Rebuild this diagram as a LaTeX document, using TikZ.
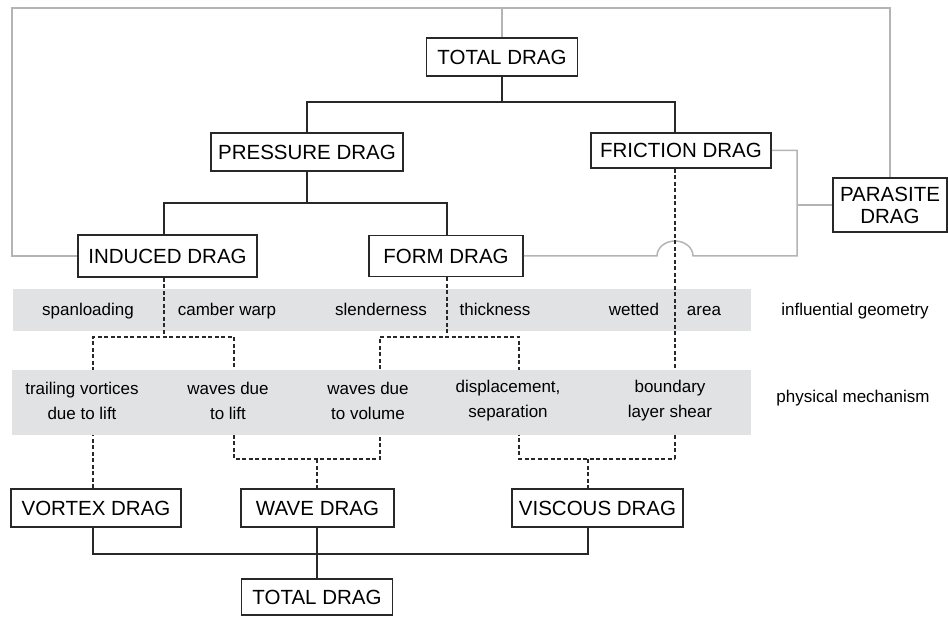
\documentclass[tikz,border=0pt]{standalone}
\usepackage{fontspec}
\setmainfont{Liberation Sans}
\usepackage{tikz}

\definecolor{bandgray}{RGB}{225,226,228}
\definecolor{linegray}{RGB}{180,180,182}
\definecolor{inkdark}{RGB}{40,40,40}

\begin{document}
\begin{tikzpicture}[x=1pt,y=-1pt,
  box/.style={draw=inkdark, line width=1.6pt, fill=white, inner sep=0pt,
    font=\fontsize{20.5}{22}\selectfont, align=center},
  tree/.style={draw=inkdark, line width=1.4pt},
  parasite/.style={draw=linegray, line width=1.5pt},
  mech/.style={draw=inkdark, line width=1.4pt, dash pattern=on 4pt off 2.5pt},
  band/.style={fill=bandgray},
  geo/.style={anchor=base, inner sep=0pt, font=\fontsize{17}{24}\selectfont},
  phys/.style={anchor=center, inner sep=0pt, align=center,
    font=\fontsize{17}{25}\selectfont}]

\useasboundingbox (0,0) rectangle (948,617);

% bands
\fill[band] (13,289) rectangle (751,331);

% boxes
\node[box, minimum width=151pt, minimum height=38pt] (tot1) at (502,57) {TOTAL DRAG};
\node[box, minimum width=192pt, minimum height=38pt] (press) at (307,152) {PRESSURE DRAG};
\node[box, minimum width=180pt, minimum height=35pt] (fric) at (681,150.5) {FRICTION DRAG};
\node[box, minimum width=179pt, minimum height=42pt] (indu) at (167.5,256) {INDUCED DRAG};
\node[box, minimum width=154pt, minimum height=41pt] (form) at (446,256) {FORM DRAG};
\node[box, minimum width=114pt, minimum height=54pt] (para) at (890,205) {PARASITE\\DRAG};
\node[box, minimum width=170pt, minimum height=38pt] (vort) at (96,508) {VORTEX DRAG};
\node[box, minimum width=153pt, minimum height=38pt] (wave) at (317.5,508) {WAVE DRAG};
\node[box, minimum width=171pt, minimum height=38pt] (visc) at (597.5,508) {VISCOUS DRAG};
\node[box, minimum width=151pt, minimum height=36pt] (tot2) at (317,597) {TOTAL DRAG};

% junctions
\coordinate (topJ) at (502,102);
\coordinate (pressJ) at (307,203);
\coordinate (frameTL) at (12,8);
\coordinate (fricR) at (797,150.5);
\coordinate (paraJ) at (797,205);
\coordinate (hopR) at (693,256);
\coordinate (indJ) at (164,337);
\coordinate (trailL) at (93,337);
\coordinate (liftR) at (234,337);
\coordinate (formJ) at (447,337);
\coordinate (volL) at (380,337);
\coordinate (dispR) at (519,337);
\coordinate (waveJ) at (317,459);
\coordinate (viscJ) at (588,459);
\coordinate (fricB) at (675,459);
\coordinate (botJ) at (317,554);

% parasite drag (grey)
\draw[parasite] (indu.west) -| (frameTL) -| (para.north);
\draw[parasite] (tot1.north) -- (tot1.north |- frameTL);
\draw[parasite] (fric.east) -- (fricR) |- (hopR)
  arc[start angle=0, end angle=180, x radius=18pt, y radius=15pt]
  -- (form.east);
\draw[parasite] (paraJ) -- (para.west);

% breakdown (solid)
\draw[tree] (tot1.south) -- (topJ);
\draw[tree] (press.north) |- (topJ) -| (fric.north -| fricB);
\draw[tree] (press.south) -- (pressJ);
\draw[tree] (indu.north -| indJ) |- (pressJ) -| (form.north -| formJ);

% mechanisms (dashed)
\draw[mech] (indu.south -| indJ) -- (indJ);
\draw[mech] (vort.north -| trailL) |- (liftR) -- (liftR |- waveJ) -| (volL);
\draw[mech] (form.south -| formJ) -- (formJ);
\draw[mech] (volL) -- (dispR) -- (dispR |- fricB) -- (fricB);
\draw[mech] (fric.south -| fricB) -- (fricB);
\draw[mech] (waveJ) -- (wave.north -| waveJ);
\draw[mech] (viscJ) -- (visc.north -| viscJ);

\fill[band] (12,370) rectangle (751,435);

% bottom sum
\draw[tree] (vort.south -| trailL) |- (botJ) -| (visc.south -| viscJ);
\draw[tree] (wave.south -| botJ) -- (tot2.north);

% influential geometry
\node[geo] (span) at (88,316) {spanloading};
\node[geo] (camb) at (227,316) {camber warp};
\node[geo] (slen) at (381,316) {slenderness};
\node[geo] (thick) at (495,316) {thickness};
\node[geo] (wett) at (634,316) {wetted};
\node[geo] (area) at (704,316) {area};
\node[geo] (geolbl) at (855,316) {influential geometry};

% physical mechanism
\node[phys] (trail) at (82,401) {trailing vortices\\due to lift};
\node[phys] (wlift) at (228,401) {waves due\\to lift};
\node[phys] (wvol) at (368,401) {waves due\\to volume};
\node[phys] (disp) at (508,401) {displacement,\\separation};
\node[phys] (bound) at (670,401) {boundary\\layer shear};
\node[geo] (physlbl) at (853,403) {physical mechanism};

\end{tikzpicture}
\end{document}
